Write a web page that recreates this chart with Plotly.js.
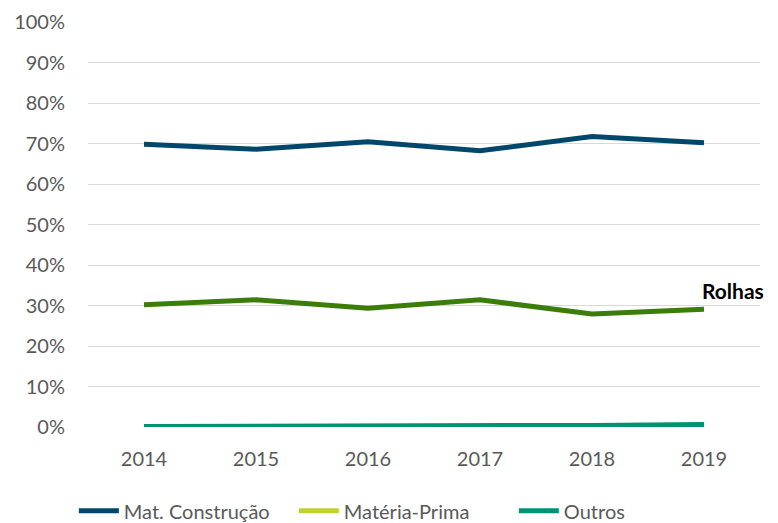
<!DOCTYPE html>
<html>
<head>
<meta charset="utf-8">
<script src="https://cdn.plot.ly/plotly-3.0.1.min.js"></script>
<style>html,body{margin:0;padding:0;background:#fff;}#chart{width:778px;height:523px;}</style>
</head>
<body>
<div id="chart"></div>
<script>
var years = ['2014', '2015', '2016', '2017', '2018', '2019'];
var matConstrucao = [69.8, 68.6, 70.4, 68.2, 71.7, 70.2];
var rolhas = [30.2, 31.4, 29.3, 31.4, 27.9, 29.1];
var materiaPrima = [0.0, 0.0, 0.0, 0.0, 0.0, 0.0];
var outros = [0.1, 0.1, 0.3, 0.4, 0.4, 0.6];
var yTicks = [0, 10, 20, 30, 40, 50, 60, 70, 80, 90, 100];
var yTickLabels = yTicks.map(function (v) { return v + '%'; });

var font = 'Lato, "Open Sans", sans-serif';
var traces = [
  {x: years, y: matConstrucao, name: 'Mat. Construção', type: 'scatter', mode: 'lines',
   line: {color: '#00476B', width: 5}},
  {x: years, y: rolhas, name: 'Rolhas', type: 'scatter', mode: 'lines', showlegend: false,
   line: {color: '#3B7D09', width: 5}},
  {x: years, y: materiaPrima, name: 'Matéria-Prima', type: 'scatter', mode: 'lines',
   line: {color: '#C3D135', width: 5}},
  {x: years, y: outros, name: 'Outros', type: 'scatter', mode: 'lines',
   line: {color: '#009474', width: 5}}
];
var layout = {
  width: 778, height: 523,
  margin: {l: 88, r: 18, t: 22, b: 96, autoexpand: false},
  paper_bgcolor: '#fff', plot_bgcolor: '#fff',
  font: {family: font, size: 19, color: '#595959'},
  showlegend: true,
  legend: {orientation: 'h', x: 0.47, xanchor: 'center', y: -0.207, yanchor: 'middle',
           font: {family: font, size: 20, color: '#595959'}, traceorder: 'normal', itemwidth: 40,
           entrywidth: 165, entrywidthmode: 'pixels'},
  xaxis: {type: 'category', range: [-0.5, 5.5], showgrid: false, zeroline: false,
          showline: false, ticks: '', ticklabelstandoff: 18,
          tickfont: {family: font, size: 20, color: '#595959'}},
  yaxis: {range: [0, 100], tickvals: yTicks, ticktext: yTickLabels, showgrid: true,
          gridcolor: '#D9D9D9', gridwidth: 1, zeroline: false, showline: false, ticks: '',
          ticklabelstandoff: 22,
          tickfont: {family: font, size: 20, color: '#595959'}},
  annotations: [{x: 0.911, y: 0.336, xref: 'paper', yref: 'paper', text: '<b>Rolhas</b>', showarrow: false,
                 xanchor: 'left', yanchor: 'middle',
                 font: {family: font, size: 21, color: '#000000'}}]
};
Plotly.newPlot('chart', traces, layout, {displayModeBar: false, staticPlot: true});
</script>
</body>
</html>
